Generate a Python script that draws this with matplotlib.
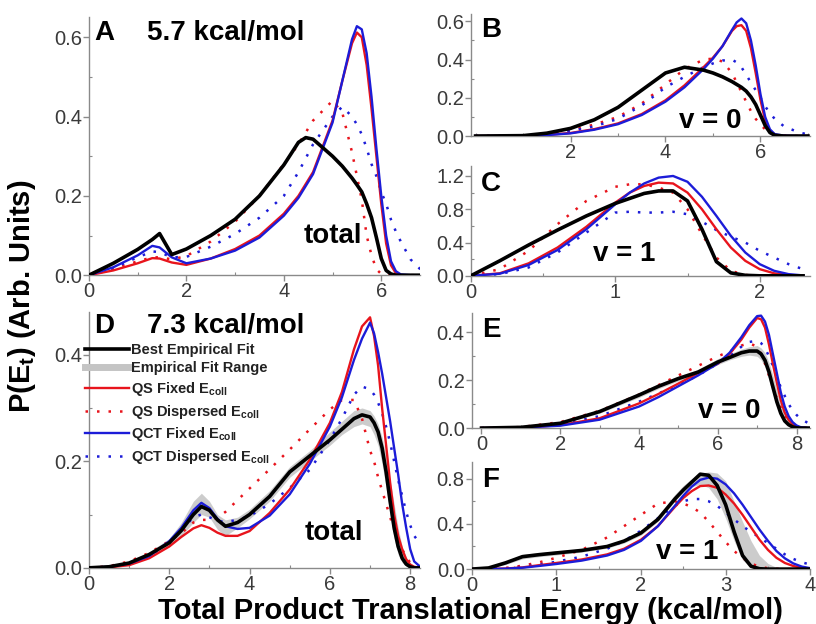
import matplotlib
matplotlib.use("Agg")
import matplotlib.pyplot as plt
from matplotlib.ticker import MultipleLocator
from matplotlib.lines import Line2D

plt.rcParams["font.family"] = ["Liberation Sans", "DejaVu Sans"]
plt.rcParams["mathtext.fontset"] = "custom"
plt.rcParams["mathtext.rm"] = "Liberation Sans"
plt.rcParams["mathtext.bf"] = "Liberation Sans:bold"
plt.rcParams["mathtext.default"] = "bf"

RED = "#e8141c"
BLUE = "#1c1cd8"
GREY_BAND = "#c4c4c4"
SPINE = "#8a8a8a"
TICKLBL = "#3a3a3a"

# ── Panel A : 5.7 kcal/mol, total ─────────────────────────
xa = [0, 0.5, 1.0, 1.3, 1.45, 1.7, 2.0, 2.5, 3.0, 3.5, 4.0, 4.3, 4.45, 4.6, 5.0, 5.2, 5.4,
      5.5, 5.6, 5.7, 5.8, 5.9, 6.0, 6.1, 6.2, 6.3, 6.4, 6.6, 6.8]
a_black = [0, 0.03, 0.065, 0.09, 0.105, 0.052, 0.066, 0.10, 0.141, 0.20, 0.278, 0.335, 0.347,
           0.343, 0.30, 0.275, 0.245, 0.228, 0.21, 0.18, 0.145, 0.095, 0.042, 0.012, 0.003, 0,
           0, 0, 0]
a_qs = [0, 0.012, 0.03, 0.043, 0.042, 0.032, 0.026, 0.042, 0.066, 0.10, 0.155, 0.20, 0.23,
        0.26, 0.39, 0.49, 0.585, 0.612, 0.60, 0.53, 0.42, 0.30, 0.18, 0.08, 0.025, 0.005, 0,
        0, 0]
a_qct = [0, 0.02, 0.05, 0.074, 0.07, 0.045, 0.03, 0.042, 0.062, 0.095, 0.15, 0.195, 0.225,
         0.255, 0.385, 0.49, 0.595, 0.628, 0.62, 0.56, 0.45, 0.32, 0.20, 0.10, 0.035, 0.01,
         0.002, 0, 0]
a_qs_disp = [0, 0.015, 0.035, 0.045, 0.045, 0.04, 0.048, 0.085, 0.135, 0.20, 0.28, 0.33,
             0.36, 0.39, 0.44, 0.41, 0.31, 0.25, 0.19, 0.10, 0.05, 0.015, 0.003, 0, 0, 0, 0,
             0, 0]
a_qct_disp = [0, 0.018, 0.045, 0.06, 0.058, 0.045, 0.046, 0.072, 0.104, 0.145, 0.20, 0.26,
              0.295, 0.33, 0.40, 0.425, 0.40, 0.38, 0.355, 0.32, 0.28, 0.25, 0.21, 0.18, 0.14,
              0.11, 0.085, 0.04, 0.015]

# ── Panel B : 5.7 kcal/mol, v = 0 ─────────────────────────
xb = [0, 1.0, 1.5, 2.0, 2.5, 3.0, 3.5, 4.0, 4.4, 4.8, 5.0, 5.2, 5.4, 5.5, 5.6, 5.7, 5.8,
      5.9, 6.0, 6.1, 6.2, 6.3, 6.5, 6.8, 7.0]
b_black = [0, 0.002, 0.015, 0.04, 0.085, 0.15, 0.24, 0.33, 0.36, 0.345, 0.33, 0.31, 0.285,
           0.27, 0.255, 0.235, 0.205, 0.165, 0.11, 0.055, 0.018, 0.004, 0, 0, 0]
b_qs = [0, 0.001, 0.006, 0.016, 0.036, 0.066, 0.115, 0.187, 0.265, 0.36, 0.41, 0.47, 0.55,
        0.575, 0.58, 0.55, 0.46, 0.33, 0.19, 0.08, 0.025, 0.006, 0.001, 0, 0]
b_qct = [0, 0.001, 0.005, 0.014, 0.033, 0.062, 0.11, 0.18, 0.255, 0.35, 0.405, 0.47, 0.555,
         0.595, 0.615, 0.59, 0.50, 0.37, 0.22, 0.10, 0.035, 0.01, 0.002, 0, 0]
b_qs_disp = [0, 0.003, 0.012, 0.03, 0.06, 0.10, 0.17, 0.27, 0.35, 0.40, 0.405, 0.39, 0.33,
             0.28, 0.23, 0.18, 0.13, 0.09, 0.06, 0.035, 0.02, 0.01, 0.003, 0, 0]
b_qct_disp = [0, 0.002, 0.01, 0.026, 0.05, 0.09, 0.16, 0.255, 0.31, 0.36, 0.38, 0.395, 0.40,
              0.385, 0.36, 0.32, 0.28, 0.24, 0.20, 0.155, 0.12, 0.09, 0.05, 0.02, 0.008]

# ── Panel C : 5.7 kcal/mol, v = 1 ─────────────────────────
xc = [0, 0.2, 0.4, 0.6, 0.8, 1.0, 1.1, 1.2, 1.3, 1.4, 1.5, 1.6, 1.7, 1.8, 1.9, 2.0, 2.1,
      2.2, 2.3]
c_black = [0, 0.18, 0.37, 0.55, 0.72, 0.87, 0.93, 0.99, 1.02, 1.02, 0.90, 0.56, 0.17, 0.035,
           0.006, 0, 0, 0, 0]
c_qs = [0, 0.03, 0.15, 0.34, 0.59, 0.88, 1.0, 1.08, 1.12, 1.11, 1.0, 0.80, 0.56, 0.34, 0.18,
        0.08, 0.03, 0.01, 0.002]
c_qct = [0, 0.025, 0.13, 0.31, 0.56, 0.86, 1.0, 1.11, 1.18, 1.20, 1.13, 0.95, 0.72, 0.48,
         0.28, 0.14, 0.06, 0.02, 0.005]
c_qs_disp = [0, 0.08, 0.30, 0.62, 0.90, 1.07, 1.10, 1.10, 1.06, 1.0, 0.80, 0.50, 0.22, 0.06,
             0.01, 0, 0, 0, 0]
c_qct_disp = [0, 0.02, 0.10, 0.28, 0.52, 0.76, 0.77, 0.76, 0.76, 0.77, 0.74, 0.65, 0.55,
              0.47, 0.40, 0.30, 0.22, 0.14, 0.08]

# ── Panel D : 7.3 kcal/mol, total ─────────────────────────
xd = [0, 0.5, 1.0, 1.5, 2.0, 2.3, 2.6, 2.8, 3.0, 3.2, 3.4, 3.7, 4.0, 4.5, 5.0, 5.5, 6.0,
      6.3, 6.6, 6.8, 7.0, 7.1, 7.2, 7.3, 7.4, 7.5, 7.6, 7.7, 7.8, 7.9, 8.0, 8.1, 8.25]
d_black = [0, 0.002, 0.009, 0.025, 0.047, 0.07, 0.10, 0.115, 0.108, 0.09, 0.078, 0.085, 0.10,
           0.134, 0.18, 0.21, 0.24, 0.26, 0.28, 0.287, 0.283, 0.272, 0.255, 0.225, 0.18, 0.125,
           0.075, 0.04, 0.018, 0.007, 0.002, 0, 0]
d_low = [0, 0.001, 0.006, 0.02, 0.04, 0.06, 0.085, 0.10, 0.095, 0.072, 0.06, 0.075, 0.092,
         0.125, 0.17, 0.20, 0.23, 0.25, 0.265, 0.27, 0.265, 0.25, 0.23, 0.195, 0.15, 0.10,
         0.055, 0.025, 0.01, 0.003, 0.001, 0, 0]
d_high = [0, 0.004, 0.012, 0.03, 0.055, 0.085, 0.125, 0.14, 0.125, 0.10, 0.09, 0.095, 0.11,
          0.145, 0.19, 0.22, 0.255, 0.275, 0.295, 0.30, 0.295, 0.285, 0.27, 0.245, 0.21, 0.165,
          0.12, 0.075, 0.04, 0.02, 0.01, 0.003, 0]
d_qs = [0, 0.001, 0.005, 0.018, 0.04, 0.058, 0.074, 0.08, 0.075, 0.066, 0.06, 0.06, 0.069,
        0.103, 0.147, 0.203, 0.272, 0.33, 0.41, 0.453, 0.47, 0.435, 0.38, 0.30, 0.23, 0.16,
        0.10, 0.06, 0.035, 0.016, 0.006, 0.002, 0]
d_qct = [0, 0.002, 0.008, 0.022, 0.05, 0.075, 0.108, 0.122, 0.112, 0.092, 0.078, 0.073, 0.075,
         0.098, 0.138, 0.195, 0.265, 0.32, 0.39, 0.43, 0.46, 0.44, 0.405, 0.365, 0.32, 0.275,
         0.225, 0.175, 0.12, 0.075, 0.035, 0.012, 0.002]
d_qs_disp = [0, 0.003, 0.012, 0.028, 0.05, 0.065, 0.085, 0.09, 0.09, 0.094, 0.105, 0.127,
             0.149, 0.185, 0.222, 0.26, 0.297, 0.315, 0.315, 0.28, 0.22, 0.20, 0.17, 0.145,
             0.12, 0.095, 0.072, 0.053, 0.035, 0.02, 0.01, 0.004, 0]
d_qct_disp = [0, 0.002, 0.008, 0.022, 0.047, 0.07, 0.095, 0.10, 0.095, 0.088, 0.086, 0.09,
              0.097, 0.12, 0.15, 0.184, 0.24, 0.28, 0.325, 0.34, 0.335, 0.325, 0.31, 0.29,
              0.265, 0.235, 0.20, 0.165, 0.135, 0.105, 0.08, 0.06, 0.045]

# ── Panel E : 7.3 kcal/mol, v = 0 ─────────────────────────
xe = [0, 1.0, 2.0, 3.0, 4.0, 4.5, 5.0, 5.5, 6.0, 6.3, 6.6, 6.8, 7.0, 7.1, 7.2, 7.3, 7.4,
      7.5, 7.6, 7.7, 7.8, 7.9, 8.0, 8.1, 8.3]
e_black = [0, 0.003, 0.02, 0.069, 0.138, 0.175, 0.207, 0.234, 0.276, 0.295, 0.315, 0.322,
           0.322, 0.31, 0.283, 0.235, 0.172, 0.11, 0.062, 0.03, 0.014, 0.005, 0.001, 0, 0]
e_low = [0, 0.002, 0.016, 0.062, 0.128, 0.165, 0.197, 0.225, 0.265, 0.285, 0.30, 0.305, 0.30,
         0.285, 0.255, 0.205, 0.145, 0.09, 0.048, 0.022, 0.009, 0.003, 0.001, 0, 0]
e_high = [0, 0.004, 0.025, 0.076, 0.148, 0.185, 0.217, 0.245, 0.29, 0.31, 0.33, 0.34, 0.345,
          0.335, 0.315, 0.275, 0.22, 0.16, 0.10, 0.06, 0.032, 0.015, 0.006, 0.002, 0]
e_qs = [0, 0.002, 0.012, 0.041, 0.103, 0.143, 0.186, 0.23, 0.269, 0.31, 0.37, 0.42, 0.46,
        0.455, 0.42, 0.35, 0.269, 0.19, 0.117, 0.065, 0.034, 0.015, 0.006, 0.002, 0]
e_qct = [0, 0.002, 0.01, 0.035, 0.09, 0.13, 0.175, 0.22, 0.27, 0.315, 0.38, 0.43, 0.468,
         0.47, 0.445, 0.39, 0.31, 0.23, 0.15, 0.09, 0.05, 0.025, 0.011, 0.004, 0]
e_qs_disp = [0, 0.004, 0.025, 0.072, 0.14, 0.18, 0.22, 0.26, 0.30, 0.32, 0.345, 0.355, 0.34,
             0.31, 0.27, 0.22, 0.17, 0.125, 0.085, 0.055, 0.032, 0.018, 0.008, 0.003, 0]
e_qct_disp = [0, 0.002, 0.015, 0.05, 0.11, 0.145, 0.18, 0.22, 0.27, 0.30, 0.34, 0.36, 0.365,
              0.355, 0.335, 0.30, 0.26, 0.215, 0.17, 0.135, 0.10, 0.075, 0.055, 0.04, 0.02]

# ── Panel F : 7.3 kcal/mol, v = 1 ─────────────────────────
xf = [0, 0.2, 0.4, 0.6, 0.8, 1.0, 1.3, 1.6, 1.8, 2.0, 2.2, 2.4, 2.5, 2.6, 2.7, 2.8, 2.9,
      3.0, 3.1, 3.2, 3.3, 3.4, 3.5, 3.6, 3.7, 3.8, 3.9, 4.0]
f_black = [0, 0.01, 0.055, 0.11, 0.128, 0.143, 0.165, 0.20, 0.248, 0.32, 0.44, 0.62, 0.70,
           0.77, 0.84, 0.83, 0.74, 0.57, 0.33, 0.12, 0.025, 0.003, 0, 0, 0, 0, 0, 0]
f_low = [0, 0.007, 0.04, 0.09, 0.11, 0.125, 0.15, 0.185, 0.23, 0.30, 0.42, 0.60, 0.68, 0.73,
         0.75, 0.72, 0.62, 0.45, 0.25, 0.08, 0.015, 0.002, 0, 0, 0, 0, 0, 0]
f_high = [0, 0.015, 0.07, 0.13, 0.145, 0.16, 0.18, 0.215, 0.265, 0.345, 0.47, 0.66, 0.74,
          0.80, 0.85, 0.86, 0.85, 0.78, 0.60, 0.42, 0.25, 0.12, 0.05, 0.015, 0.003, 0, 0, 0]
f_qs = [0, 0.001, 0.005, 0.015, 0.035, 0.054, 0.085, 0.13, 0.18, 0.26, 0.38, 0.55, 0.63,
        0.69, 0.735, 0.74, 0.72, 0.66, 0.58, 0.48, 0.37, 0.26, 0.17, 0.10, 0.054, 0.027,
        0.012, 0.005]
f_qct = [0, 0.001, 0.004, 0.012, 0.028, 0.045, 0.075, 0.12, 0.17, 0.25, 0.38, 0.56, 0.65,
         0.73, 0.79, 0.81, 0.80, 0.75, 0.67, 0.57, 0.46, 0.35, 0.25, 0.16, 0.095, 0.05, 0.022,
         0.008]
f_qs_disp = [0, 0.002, 0.01, 0.03, 0.06, 0.10, 0.17, 0.28, 0.38, 0.48, 0.58, 0.60, 0.58,
             0.55, 0.50, 0.42, 0.33, 0.24, 0.16, 0.10, 0.05, 0.02, 0.008, 0.003, 0, 0, 0, 0]
f_qct_disp = [0, 0.001, 0.006, 0.02, 0.04, 0.065, 0.11, 0.18, 0.25, 0.34, 0.45, 0.56, 0.60,
              0.62, 0.62, 0.60, 0.56, 0.50, 0.44, 0.38, 0.33, 0.28, 0.23, 0.18, 0.13, 0.09,
              0.06, 0.04]

LEGEND_LABELS = ["Best Empirical Fit", "Empirical Fit Range", "QS Fixed E$_{coll}$",
                 "QS Dispersed E$_{coll}$", "QCT Fixed E$_{coll}$", "QCT Dispersed E$_{coll}$"]

DOT = (0, (1.0, 3.6))
LABEL_SIZE = 20

fig = plt.figure(figsize=(8.16, 6.24), dpi=100)


def make_axes(rect, xlim, ylim, xmaj, xmin, ymaj, ymin, xticks=None):
    ax = fig.add_axes(rect)
    ax.set_xlim(*xlim)
    ax.set_ylim(*ylim)
    ax.xaxis.set_major_locator(MultipleLocator(xmaj))
    ax.xaxis.set_minor_locator(MultipleLocator(xmin))
    ax.yaxis.set_major_locator(MultipleLocator(ymaj))
    ax.yaxis.set_minor_locator(MultipleLocator(ymin))
    if xticks is not None:
        ax.set_xticks(xticks)
    ax.yaxis.set_major_formatter(plt.FuncFormatter(lambda v, p: f"{v:.1f}"))
    for s in ["top", "right"]:
        ax.spines[s].set_visible(False)
    for s in ["left", "bottom"]:
        ax.spines[s].set_color(SPINE)
        ax.spines[s].set_linewidth(1.0)
    ax.tick_params(which="major", direction="out", length=4, width=1, color=SPINE,
                   labelsize=14.5, labelcolor=TICKLBL, pad=1)
    ax.tick_params(which="minor", direction="in", length=2.5, width=0.8, color=SPINE)
    return ax


def draw(ax, x, black, qs, qct, qs_disp, qct_disp, low=None, high=None):
    if low is not None:
        ax.fill_between(x, low, high, color=GREY_BAND, lw=0, alpha=0.85, zorder=1)
    ax.plot(x, qs_disp, color=RED, lw=1.8, ls=DOT, zorder=2)
    ax.plot(x, qct_disp, color=BLUE, lw=1.8, ls=DOT, zorder=2)
    ax.plot(x, qs, color=RED, lw=1.7, zorder=3)
    ax.plot(x, qct, color=BLUE, lw=1.7, zorder=3)
    ax.plot(x, black, color="black", lw=2.6, zorder=4)


def panel_text(ax, x, y, s, **kw):
    ax.text(x, y, s, fontsize=LABEL_SIZE, fontweight="bold", **kw)


ax_a = make_axes([0.109, 0.559, 0.406, 0.413], (0, 6.8), (0, 0.65), 2, 1, 0.2, 0.1)
draw(ax_a, xa, a_black, a_qs, a_qct, a_qs_disp, a_qct_disp)
panel_text(ax_a, 0.015, 0.99, "A", transform=ax_a.transAxes, va="top", ha="left")
panel_text(ax_a, 0.175, 0.99, "5.7 kcal/mol", transform=ax_a.transAxes, va="top", ha="left")
panel_text(ax_a, 5.0, 0.10, "total", ha="center", va="center")

ax_b = make_axes([0.577, 0.782, 0.416, 0.196], (-0.1, 7.05), (0, 0.64), 2, 1, 0.2, 0.1,
                 xticks=[2, 4, 6])
draw(ax_b, xb, b_black, b_qs, b_qct, b_qs_disp, b_qct_disp)
panel_text(ax_b, 0.03, 0.97, "B", transform=ax_b.transAxes, va="top", ha="left")
panel_text(ax_b, 4.95, 0.08, "v = 0", ha="center", va="center")

ax_c = make_axes([0.577, 0.558, 0.416, 0.176], (0, 2.35), (0, 1.32), 1, 0.5, 0.4, 0.2)
draw(ax_c, xc, c_black, c_qs, c_qct, c_qs_disp, c_qct_disp)
panel_text(ax_c, 0.03, 0.95, "C", transform=ax_c.transAxes, va="top", ha="left")
panel_text(ax_c, 1.06, 0.26, "v = 1", ha="center", va="center")

ax_d = make_axes([0.109, 0.090, 0.406, 0.410], (0, 8.25), (0, 0.48), 2, 1, 0.2, 0.1)
draw(ax_d, xd, d_black, d_qs, d_qct, d_qs_disp, d_qct_disp, d_low, d_high)
panel_text(ax_d, 0.015, 0.995, "D", transform=ax_d.transAxes, va="top", ha="left")
panel_text(ax_d, 0.175, 0.995, "7.3 kcal/mol", transform=ax_d.transAxes, va="top", ha="left")
panel_text(ax_d, 6.1, 0.066, "total", ha="center", va="center")

handles = [
    Line2D([], [], color="black", lw=2.6),
    Line2D([], [], color=GREY_BAND, lw=5),
    Line2D([], [], color=RED, lw=1.7),
    Line2D([], [], color=RED, lw=1.8, ls=DOT),
    Line2D([], [], color=BLUE, lw=1.7),
    Line2D([], [], color=BLUE, lw=1.8, ls=DOT),
]
leg = ax_d.legend(handles, LEGEND_LABELS, loc="upper left", bbox_to_anchor=(-0.012, 0.88),
                  frameon=False, prop={"weight": "bold", "size": 10.5}, handlelength=3.0,
                  handletextpad=0.15, labelspacing=0.32, borderaxespad=0, borderpad=0)
for t in leg.get_texts():
    t.set_color("#222222")

ax_e = make_axes([0.578, 0.314, 0.415, 0.184], (-0.25, 8.35), (0, 0.48), 2, 1, 0.2, 0.1)
draw(ax_e, xe, e_black, e_qs, e_qct, e_qs_disp, e_qct_disp, e_low, e_high)
panel_text(ax_e, 0.03, 0.97, "E", transform=ax_e.transAxes, va="top", ha="left")
panel_text(ax_e, 6.3, 0.07, "v = 0", ha="center", va="center")

ax_f = make_axes([0.578, 0.088, 0.415, 0.172], (0, 4.0), (0, 0.95), 1, 0.5, 0.4, 0.2)
draw(ax_f, xf, f_black, f_qs, f_qct, f_qs_disp, f_qct_disp, f_low, f_high)
panel_text(ax_f, 0.03, 0.95, "F", transform=ax_f.transAxes, va="top", ha="left")
panel_text(ax_f, 2.55, 0.15, "v = 1", ha="center", va="center")

fig.text(0.576, 0.021, "Total Product Translational Energy (kcal/mol)", fontsize=21,
         fontweight="bold", ha="center", va="center")
fig.text(0.027, 0.525, "P(E$_t$) (Arb. Units)", fontsize=21, fontweight="bold",
         ha="center", va="center", rotation=90)

fig.savefig("out.png", dpi=100)
